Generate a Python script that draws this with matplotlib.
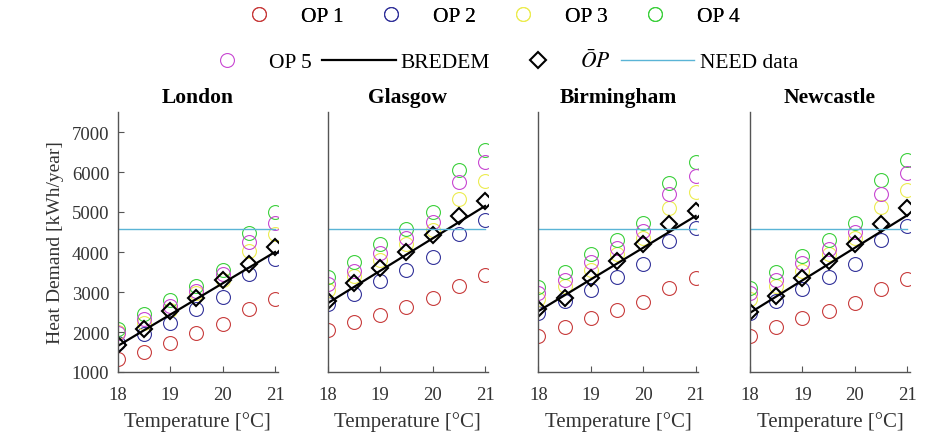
import matplotlib
matplotlib.use("Agg")
import matplotlib.pyplot as plt
from matplotlib.lines import Line2D

plt.rcParams['font.family'] = ['Liberation Serif', 'DejaVu Serif']
plt.rcParams['mathtext.fontset'] = 'stix'

# data
cities = ['London', 'Glasgow', 'Birmingham', 'Newcastle']
temps = [18, 18.5, 19, 19.5, 20, 20.5, 21]

op1 = [[1330, 1510, 1720, 1970, 2190, 2580, 2830],
       [2050, 2260, 2420, 2630, 2850, 3160, 3420],
       [1900, 2130, 2350, 2540, 2750, 3100, 3340],
       [1900, 2130, 2350, 2520, 2730, 3080, 3330]]
op2 = [[1730, 1940, 2230, 2580, 2880, 3450, 3830],
       [2690, 2960, 3270, 3560, 3880, 4460, 4790],
       [2470, 2770, 3060, 3380, 3710, 4270, 4600],
       [2470, 2770, 3080, 3370, 3700, 4290, 4640]]
op3 = [[2000, 2230, 2560, 2980, 3310, 4020, 4460],
       [3060, 3400, 3810, 4190, 4560, 5330, 5770],
       [2820, 3150, 3560, 3940, 4350, 5100, 5490],
       [2820, 3150, 3520, 3940, 4350, 5130, 5540]]
op4 = [[2080, 2440, 2800, 3150, 3540, 4480, 4990],
       [3380, 3750, 4190, 4580, 5000, 6040, 6560],
       [3130, 3500, 3940, 4310, 4730, 5730, 6240],
       [3110, 3500, 3900, 4310, 4730, 5790, 6290]]
op5 = [[1980, 2320, 2650, 3020, 3440, 4250, 4730],
       [3190, 3520, 3980, 4340, 4750, 5740, 6240],
       [2980, 3300, 3760, 4100, 4520, 5440, 5910],
       [2970, 3300, 3730, 4080, 4490, 5460, 5980]]
op_mean = [[1670, 2080, 2520, 2860, 3310, 3710, 4120],
           [2770, 3230, 3600, 4000, 4420, 4890, 5270],
           [2570, 2860, 3360, 3770, 4210, 4690, 5020],
           [2500, 2900, 3360, 3770, 4210, 4690, 5090]]
bredem_ends = [[1650, 4000],
               [2720, 5150],
               [2520, 4900],
               [2480, 4920]]
need = [4580, 4580, 4580, 4580]

op_colors = ['#c83c3c', '#32329a', '#ecec50', '#3cd03c', '#c846d2']
need_color = '#5ab4d6'

fig = plt.figure(figsize=(9.25, 4.39), dpi=100)

lefts = [117.7, 327.7, 538.3, 750.0]
for i, city in enumerate(cities):
    ax = fig.add_axes([lefts[i] / 925, (439 - 373) / 439, 160 / 925, 260 / 439])
    for vals, c in zip([op1, op2, op3, op4, op5], op_colors):
        ax.plot(temps, vals[i], 'o', ms=10, mfc='none', mec=c, mew=0.8)
    ax.plot([temps[0], temps[-1]], bredem_ends[i], '-', color='black', lw=1.6)
    ax.plot(temps, op_mean[i], 'D', ms=8, mfc='none', mec='black', mew=1.5)
    ax.plot([temps[0], temps[-1]], [need[i], need[i]], '-', color=need_color, lw=1.0)

    ax.set_xlim(18, 21.05)
    ax.set_ylim(1000, 7500)
    ax.set_xticks([18, 19, 20, 21])
    ax.set_yticks([1000, 2000, 3000, 4000, 5000, 6000, 7000])
    ax.spines['top'].set_visible(False)
    ax.spines['right'].set_visible(False)
    for s in ['left', 'bottom']:
        ax.spines[s].set_color('#555555')
        ax.spines[s].set_linewidth(1.0)
    ax.tick_params(direction='in', length=4, labelsize=13.5, colors='#555555',
                   labelcolor='#333333')
    ax.tick_params(axis='x', pad=10)
    ax.tick_params(axis='y', pad=6)
    ax.set_title(city, fontsize=15.5, fontweight='bold', pad=7)
    ax.set_xlabel('Temperature [°C]', fontsize=15, color='#333333', labelpad=6)
    if i == 0:
        ax.set_ylabel('Heat Demand [kWh/year]', fontsize=14, color='#333333', labelpad=6)
    else:
        ax.tick_params(axis='y', length=0, labelleft=False)

def circ(c):
    return Line2D([], [], ls='none', marker='o', ms=10, mfc='none', mec=c, mew=0.8)

leg_kw = dict(ncol=4, frameon=False, loc='center', fontsize=15.5,
              handlelength=3.4, handletextpad=0.25, columnspacing=0.5)

row1 = [circ(c) for c in op_colors[:4]]
leg1 = fig.legend(row1, ['OP 1', 'OP 2', 'OP 3', 'OP 4'],
                  bbox_to_anchor=(481 / 925, 1 - 17 / 439), **leg_kw)

row2 = [circ(op_colors[4]),
        Line2D([], [], color='black', lw=1.6),
        Line2D([], [], ls='none', marker='D', ms=8, mfc='none', mec='black', mew=1.5),
        Line2D([], [], color=need_color, lw=1.0)]
leg2 = fig.legend(row2, ['OP 5', 'BREDEM', r'$\bar{O}P$', 'NEED data'],
                  bbox_to_anchor=(494 / 925, 1 - 62 / 439), **leg_kw)
fig.add_artist(leg1)

fig.savefig('out.png', dpi=100)
